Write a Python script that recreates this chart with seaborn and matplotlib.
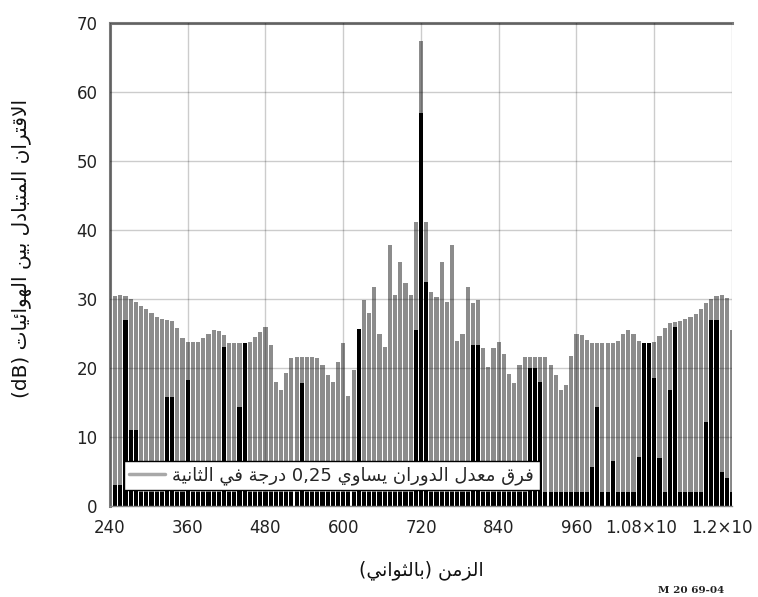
import re
import numpy as np
import pandas as pd
import matplotlib
matplotlib.use("Agg")
import matplotlib.pyplot as plt
import matplotlib.transforms as mtransforms
import seaborn as sns
from matplotlib.lines import Line2D

# ---------------- data ----------------
times = np.arange(240, 1201, 8)  # sample grid, seconds

gray_level = [
    29.9, 30.4, 30.6, 30.5, 30.0, 29.6, 29.0, 28.5, 28.0, 27.4,
    27.1, 27.0, 26.8, 25.8, 24.4, 23.8, 23.8, 23.8, 24.3, 25.0,
    25.5, 25.4, 24.8, 23.7, 23.6, 23.6, 23.6, 23.8, 24.5, 25.2,
    26.0, 23.3, 18.0, 16.8, 19.3, 21.4, 21.6, 21.6, 21.6, 21.6,
    21.4, 20.4, 19.0, 18.0, 20.9, 23.6, 16.0, 19.7, 22.9, 29.9,
    28.0, 31.8, 25.0, 23.1, 37.8, 30.6, 35.4, 32.3, 30.6, 41.2,
    67.5, 41.2, 31.1, 30.3, 35.4, 29.6, 37.8, 24.0, 25.0, 31.8,
    29.4, 29.9, 22.9, 20.2, 22.9, 23.8, 22.1, 19.2, 17.8, 20.4,
    21.6, 21.6, 21.6, 21.6, 21.6, 20.4, 19.0, 16.8, 17.5, 21.8,
    25.0, 24.8, 24.1, 23.6, 23.6, 23.6, 23.6, 23.6, 24.0, 25.0,
    25.5, 25.0, 24.0, 23.6, 23.6, 23.8, 24.6, 25.8, 26.5, 26.7,
    26.9, 27.1, 27.4, 27.8, 28.6, 29.5, 30.0, 30.4, 30.6, 30.2,
    25.5,
]

black_level = [
    25.5, 3.0, 3.0, 27.0, 11.0, 11.0, 2.0, 2.0, 2.0, 2.0,
    2.0, 15.8, 15.8, 2.0, 2.0, 18.3, 2.0, 2.0, 2.0, 2.0,
    2.0, 2.0, 23.1, 2.0, 2.0, 14.4, 23.6, 2.0, 2.0, 2.0,
    2.0, 2.0, 2.0, 2.0, 2.0, 2.0, 2.0, 17.8, 2.0, 2.0,
    2.0, 2.0, 2.0, 2.0, 2.0, 2.0, 2.0, 2.0, 25.7, 2.0,
    2.0, 2.0, 2.0, 2.0, 2.0, 2.0, 2.0, 2.0, 2.0, 25.5,
    57.0, 32.5, 2.0, 2.0, 2.0, 2.0, 2.0, 2.0, 2.0, 2.0,
    23.3, 23.3, 2.0, 2.0, 2.0, 2.0, 2.0, 2.0, 2.0, 2.0,
    2.0, 20.0, 20.0, 18.0, 2.0, 2.0, 2.0, 2.0, 2.0, 2.0,
    2.0, 2.0, 2.0, 5.7, 14.4, 2.0, 2.0, 6.5, 2.0, 2.0,
    2.0, 2.0, 7.1, 23.6, 23.6, 18.5, 7.0, 2.0, 16.8, 26.0,
    2.0, 2.0, 2.0, 2.0, 2.0, 12.2, 27.0, 27.0, 5.0, 4.0,
    2.0,
]

x_ticks = [240, 360, 480, 600, 720, 840, 960, 1080, 1200]
x_tick_labels = ["240", "360", "480", "600", "720", "840", "960", "1.08×10", "1.2×10"]
y_ticks = [0, 10, 20, 30, 40, 50, 60, 70]

ylabel_text = "الاقتران المتبادل بين الهوائيات (dB)"
xlabel_text = "الزمن (بالثواني)"
legend_text = "فرق معدل الدوران يساوي 0,25 درجة في الثانية"
code_text = "M 20 69-04"

df = pd.DataFrame({"t": times, "gray": gray_level, "black": black_level})

# ---------------- minimal Arabic shaping (presentation forms) ----------------
def _f4(c):
    return tuple(chr(c + k) for k in range(4))

def _f2(c):
    return (chr(c), chr(c + 1), None, None)

FORMS = {
    "ا": _f2(0xFE8D), "ب": _f4(0xFE8F), "ة": _f2(0xFE93), "ت": _f4(0xFE95),
    "ث": _f4(0xFE99), "ج": _f4(0xFE9D), "د": _f2(0xFEA9), "ر": _f2(0xFEAD),
    "ز": _f2(0xFEAF), "س": _f4(0xFEB1), "ع": _f4(0xFEC9), "ف": _f4(0xFED1),
    "ق": _f4(0xFED5), "ل": _f4(0xFEDD), "م": _f4(0xFEE1), "ن": _f4(0xFEE5),
    "ه": _f4(0xFEE9), "و": _f2(0xFEED), "ي": _f4(0xFEF1), "ئ": _f4(0xFE89),
    "لا": _f2(0xFEFB),
}

def shape_arabic(text):
    tokens, i = [], 0
    while i < len(text):
        if text[i] == "ل" and i + 1 < len(text) and text[i + 1] == "ا":
            tokens.append("لا"); i += 2
        else:
            tokens.append(text[i]); i += 1

    def joins_next(tok):
        return tok in FORMS and FORMS[tok][2] is not None

    out = []
    for k, tok in enumerate(tokens):
        if tok not in FORMS:
            out.append(tok); continue
        prev = tokens[k - 1] if k > 0 else None
        nxt = tokens[k + 1] if k + 1 < len(tokens) else None
        jp = prev is not None and joins_next(prev)
        jn = nxt is not None and nxt in FORMS and joins_next(tok)
        iso, fin, ini, med = FORMS[tok]
        out.append(med if (jp and jn) else fin if jp else ini if jn else iso)
    vis = "".join(out)[::-1]
    vis = re.sub(r"[0-9A-Za-z,]+", lambda m: m.group(0)[::-1], vis)
    return vis.translate(str.maketrans("()", ")("))

# ---------------- plot ----------------
sns.set_theme(style="white")
plt.rcParams["font.family"] = ["DejaVu Sans"]

fig = plt.figure(figsize=(7.58, 5.97), dpi=100)
ax = fig.add_axes([0.1451, 0.1524, 0.8206, 0.8086])

sns.barplot(data=df, x="t", y="gray", native_scale=True, color="#8c8c8c",
            width=0.8, linewidth=0, saturation=1, errorbar=None, ax=ax)
sns.barplot(data=df, x="t", y="black", native_scale=True, color="#000000",
            width=0.8, linewidth=0, saturation=1, errorbar=None, ax=ax)

ax.set_xlim(240, 1200)
ax.set_ylim(0, 70)
ax.set_xticks(x_ticks)
ax.set_xticklabels(x_tick_labels)
ax.set_yticks(y_ticks)
ax.set_yticklabels([str(v) for v in y_ticks])
ax.tick_params(axis="both", length=0, labelsize=12, colors="#222222")
ax.tick_params(axis="x", pad=9)
ax.tick_params(axis="y", pad=9)

# the "×10" labels sit left of their ticks in the reference
for lbl, dx in zip(ax.get_xticklabels()[-2:], [-13, -10]):
    lbl.set_transform(lbl.get_transform() +
                      mtransforms.ScaledTranslation(dx / 100, 0, fig.dpi_scale_trans))

ax.set_axisbelow(False)
ax.grid(True, color="#000000", alpha=0.2, linewidth=1.0)

for side in ["left", "top"]:
    ax.spines[side].set_visible(True)
    ax.spines[side].set_color("#7a7a7a")
    ax.spines[side].set_linewidth(2.2)
ax.spines["right"].set_visible(False)
ax.spines["bottom"].set_visible(True)
ax.spines["bottom"].set_color("#8a8a8a")
ax.spines["bottom"].set_linewidth(1.0)

ax.set_xlabel(shape_arabic(xlabel_text), fontsize=13.5, color="#111111")
ax.xaxis.set_label_coords(0.5, -0.112)
ax.set_ylabel(shape_arabic(ylabel_text), fontsize=14.5, color="#111111")
ax.yaxis.set_label_coords(-0.125, 0.534)

handle = Line2D([], [], color="#a8a8a8", linewidth=2.5)
leg = ax.legend([handle], [shape_arabic(legend_text)], loc="lower left",
                bbox_to_anchor=(0.022, 0.033), fontsize=13, frameon=True,
                fancybox=False, framealpha=1, edgecolor="#000000",
                handlelength=2.0, borderpad=0.3, handletextpad=0.4,
                borderaxespad=0)
leg.get_frame().set_linewidth(1.0)

fig.text(0.956, 0.004, code_text, ha="right", va="bottom", fontsize=7.5,
         family="DejaVu Serif", weight="bold", color="#222222")

fig.savefig("out.png", dpi=100)
